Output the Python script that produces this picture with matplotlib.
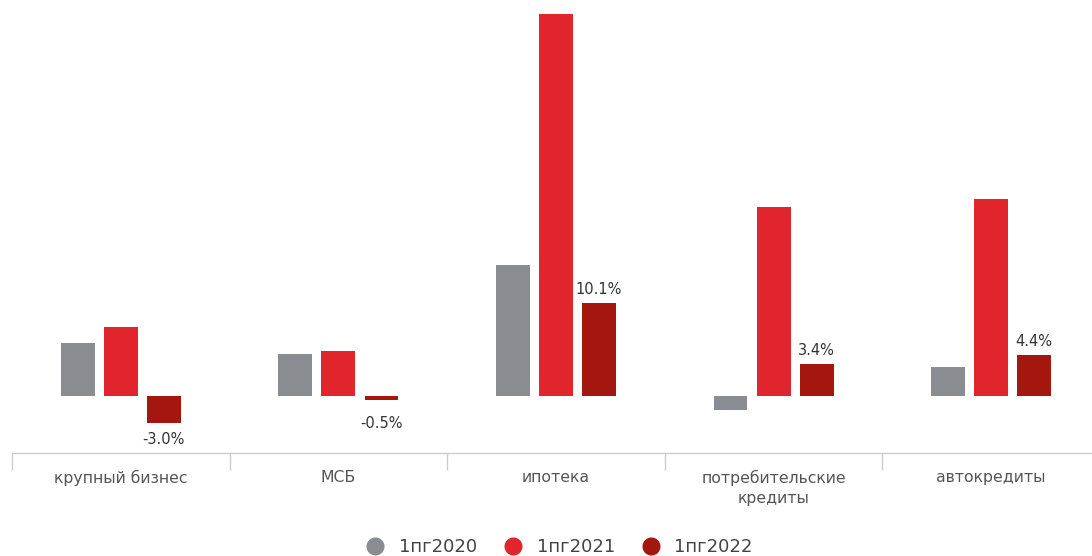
import numpy as np
import matplotlib
matplotlib.use("Agg")
import matplotlib.pyplot as plt
from matplotlib.lines import Line2D

categories = ["крупный бизнес", "МСБ", "ипотека", "потребительские\nкредиты", "автокредиты"]
series = ["1пг2020", "1пг2021", "1пг2022"]
v2020 = [5.8, 4.6, 14.3, -1.6, 3.1]
v2021 = [7.5, 4.9, 41.8, 20.6, 21.5]
v2022 = [-3.0, -0.5, 10.1, 3.4, 4.4]
labels2022 = ["-3.0%", "-0.5%", "10.1%", "3.4%", "4.4%"]

colors = ["#898c90", "#e0262c", "#a3170f"]

W, H = 1092, 556
fig = plt.figure(figsize=(W / 100, H / 100), dpi=100)
# axes span from x=12 px to past the right edge, y from 453 px (axis line) to 14 px
ax = fig.add_axes([12 / W, (H - 453) / H, 1088 / W, (453 - 14) / H])

x = np.arange(len(categories))
bw = 0.156
step = 0.198
for k, (vals, c) in enumerate(zip([v2020, v2021, v2022], colors)):
    ax.bar(x + (k - 1) * step, vals, width=bw, color=c, zorder=2)

for xi, v, lab in zip(x, v2022, labels2022):
    if v >= 0:
        ax.text(xi + step, v + 0.7, lab, ha="center", va="bottom",
                fontsize=10.5, color="#333333")
    else:
        off = 1.0 if v < -1 else 1.8
        ax.text(xi + step, v - off, lab, ha="center", va="top",
                fontsize=10.5, color="#333333")

ax.set_xlim(-0.5, len(categories) - 0.5)
ax.set_ylim(-6.3, 41.8)

for s in ["top", "right", "left"]:
    ax.spines[s].set_visible(False)
ax.spines["bottom"].set_color("#cccccc")
ax.spines["bottom"].set_linewidth(1)
ax.set_yticks([])

ax.set_xticks(np.arange(len(categories)) - 0.5, minor=False)
ax.set_xticklabels([])
ax.tick_params(axis="x", which="major", length=12, color="#cccccc", width=1)
ax.set_xticks(x, minor=True)
ax.set_xticklabels(categories, minor=True, fontsize=11.3, color="#555555",
                   linespacing=1.45)
ax.tick_params(axis="x", which="minor", length=0, pad=12)

handles = [Line2D([0], [0], marker="o", linestyle="", markersize=12,
                  markerfacecolor=c, markeredgecolor=c) for c in colors]
fig.legend(handles, series, loc="center",
           bbox_to_anchor=(555 / W, 1 - 547 / H),
           ncol=3, frameon=False, fontsize=13, handletextpad=0.3,
           columnspacing=1.0, labelcolor="#444444")

fig.savefig("out.png", dpi=100)
